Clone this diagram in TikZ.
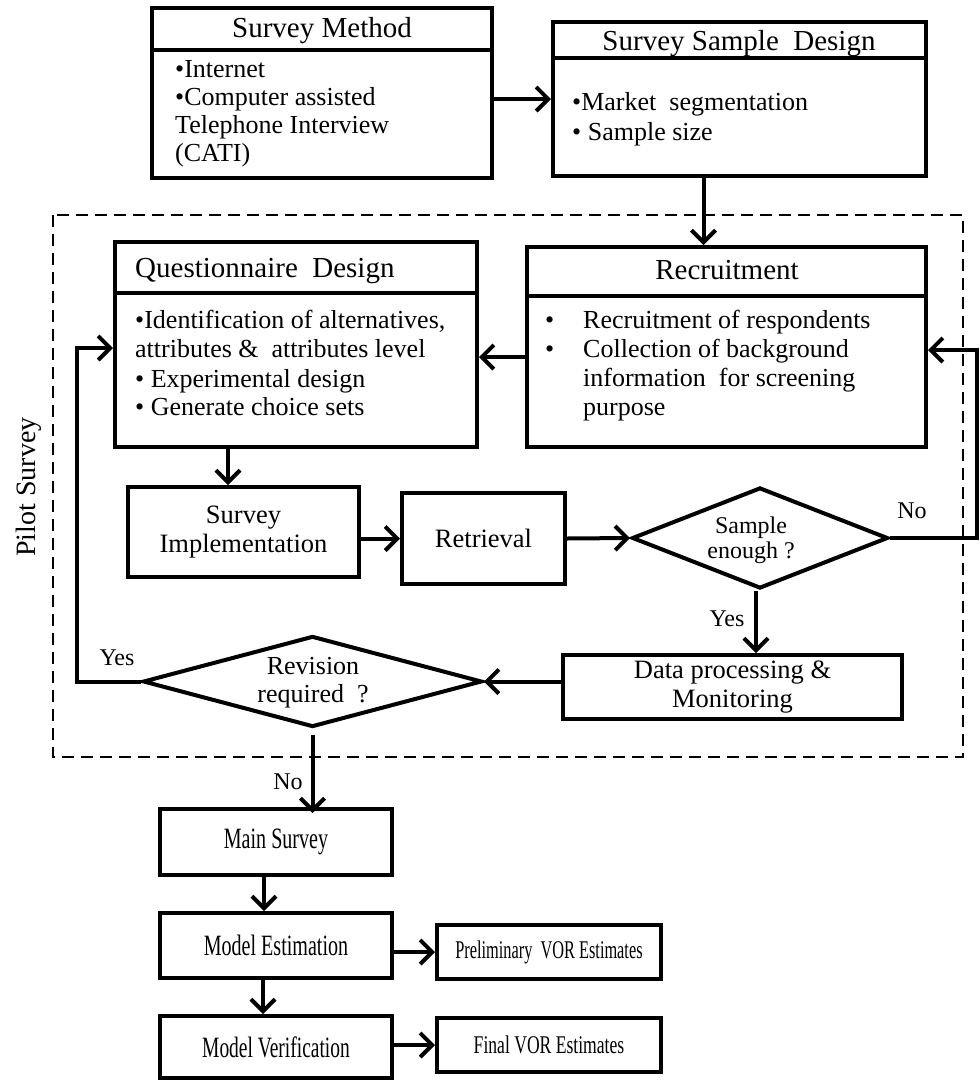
\documentclass[tikz,border=0pt]{standalone}
\usepackage{fontspec}
\usepackage{graphicx}
\setmainfont{Liberation Serif}
\usetikzlibrary{arrows.meta,shapes.geometric,calc}
\begin{document}
\begin{tikzpicture}[x=1pt,y=-1pt,
  box/.style={draw, line width=4pt, rectangle, inner sep=0pt, align=center},
  dia/.style={draw, line width=4pt, diamond, inner sep=0pt},
  arr/.style={line width=4pt, -{Straight Barb[length=12pt,width=24pt]}},
  divider/.style={line width=4pt},
  pilotbox/.style={line width=2pt, dash pattern=on 12pt off 7pt},
  ftitle/.style={font=\fontsize{29}{32}\selectfont, inner sep=0pt},
  fbody/.style={font=\fontsize{26}{29}\selectfont, inner sep=0pt},
  fbox/.style={font=\fontsize{26.5}{29}\selectfont},
  fcond/.style={font=\fontsize{29.5}{32}\selectfont},
  fcondsmall/.style={font=\fontsize{25.5}{28}\selectfont},
  lbl/.style={font=\fontsize{24}{26}\selectfont, inner sep=0pt, anchor=base}
]
\useasboundingbox (0,0) rectangle (980,1080);

% pilot survey dashed frame
\draw[pilotbox] (53,215) rectangle (963,757);
\node[rotate=90, font=\fontsize{28}{30}\selectfont, inner sep=0pt] (pilot) at (29,487) {Pilot Survey};

% Survey Method
\node[box, minimum width=340, minimum height=170] (sm) at (322,93) {};
\draw[divider] (sm.west |- 0,50) -- (sm.east |- 0,50);
\node[ftitle, anchor=base] (smh) at (322,37) {Survey Method};
\node[fbody, anchor=base west] (sm1) at (175,77) {•Internet};
\node[fbody, anchor=base west] (sm2) at (175,105) {•Computer assisted};
\node[fbody, anchor=base west] (sm3) at (175,133) {Telephone Interview};
\node[fbody, anchor=base west] (sm4) at (175,161) {(CATI)};

% Survey Sample Design
\node[box, minimum width=373, minimum height=154] (ssd) at (739.5,99) {};
\draw[divider] (ssd.west |- 0,58) -- (ssd.east |- 0,58);
\node[ftitle, anchor=base] (ssdh) at (739,50) {Survey Sample~ Design};
\node[fbody, anchor=base west] (ssd1) at (572,110) {•Market~ segmentation};
\node[fbody, anchor=base west] (ssd2) at (572,140) {• Sample size};

% Questionnaire Design
\node[box, minimum width=362, minimum height=205] (qd) at (296,344.5) {};
\draw[divider] (qd.west |- 0,293) -- (qd.east |- 0,293);
\node[ftitle, anchor=base west] (qdh) at (135,277) {Questionnaire~ Design};
\node[fbody, anchor=base west] (qd1) at (135,328) {•Identification of alternatives,};
\node[fbody, anchor=base west] (qd2) at (135,357) {attributes \&~ attributes level};
\node[fbody, anchor=base west] (qd3) at (135,387) {• Experimental design};
\node[fbody, anchor=base west] (qd4) at (135,415) {• Generate choice sets};

% Recruitment
\node[box, minimum width=399, minimum height=200] (rec) at (726.5,347) {};
\draw[divider] (rec.west |- 0,296) -- (rec.east |- 0,296);
\node[ftitle, anchor=base] (rech) at (727,279) {Recruitment};
\node[fbody, anchor=base west] (recb1) at (545,328) {•};
\node[fbody, anchor=base west] (recb2) at (545,357) {•};
\node[fbody, anchor=base west] (rec1) at (583,328) {Recruitment of respondents};
\node[fbody, anchor=base west] (rec2) at (583,357) {Collection of background};
\node[fbody, anchor=base west] (rec3) at (583,386) {information~ for screening};
\node[fbody, anchor=base west] (rec4) at (583,415) {purpose};

% Survey Implementation, Retrieval
\node[box, fbox, minimum width=231, minimum height=90] (si) at (243.5,532) {Survey\\Implementation};
\node[box, fbox, minimum width=163, minimum height=91] (ret) at (483.5,538.5) {Retrieval};

% Sample enough diamond
\node[dia, minimum width=256, minimum height=101] (se) at (760,538) {};
\node[inner sep=0pt, align=center, font=\fontsize{24}{25}\selectfont] (set) at (751,540) {Sample\\enough ?};

% Data processing
\node[box, fbox, minimum width=339, minimum height=64] (dp) at (732.5,687) {Data processing \&\\Monitoring};

% Revision diamond
\node[dia, minimum width=339, minimum height=91] (rev) at (312.5,681.5) {};
\node[inner sep=0pt, align=center, font=\fontsize{26}{28}\selectfont] (revt) at (313,683) {Revision\\required~ ?};

% bottom chain
\node[box, fcond, minimum width=232, minimum height=66] (ms) at (276,842) {\scalebox{0.68}[1]{Main Survey}};
\node[box, fcond, minimum width=232, minimum height=65] (me) at (276,945.5) {\scalebox{0.68}[1]{Model Estimation}};
\node[box, fcond, minimum width=232, minimum height=62] (mv) at (276,1047) {\scalebox{0.66}[1]{Model Verification}};
\node[box, fcondsmall, minimum width=224, minimum height=54] (pre) at (549,952) {\scalebox{0.64}[1]{Preliminary~ VOR Estimates}};
\node[box, fcondsmall, minimum width=224, minimum height=54] (fin) at (549,1045) {\scalebox{0.69}[1]{Final VOR Estimates}};

% labels
\node[lbl] (lno1) at (912,518) {No};
\node[lbl] (lyes1) at (727,626) {Yes};
\node[lbl] (lyes2) at (117,665) {Yes};
\node[lbl] (lno2) at (288,789) {No};

% connectors
\draw[arr] (sm.east |- ssd.west) -- (ssd.west);
\draw[arr] ([xshift=-36pt]ssd.south) -- ([xshift=-36pt]ssd.south |- rec.north);
\draw[arr] ([yshift=-10pt]rec.west) -- ([yshift=-10pt]rec.west -| qd.east);
\draw[arr] (se.east) -- ++(87,0) |- ([yshift=-3pt]rec.east);
\draw[arr] (rev.west) -- ++(-64,0) |- ([yshift=-3.5pt]qd.west);
\draw[arr] ([xshift=-68pt]qd.south) -- ([xshift=-68pt]qd.south |- si.north);
\draw[arr] (si.east |- ret.west) -- (ret.west);
\draw[arr] (ret.east) -- (se.west);
\draw[arr] ([xshift=-4pt]se.south) -- ([xshift=-4pt]se.south |- dp.north);
\draw[arr] (dp.west |- rev.east) -- (rev.east);
\draw[arr] ([yshift=-6pt]rev.south) -- ([yshift=-6pt]rev.south |- ms.north);
\draw[arr] ([xshift=-12pt]ms.south) -- ([xshift=-12pt]ms.south |- me.north);
\draw[arr] ([xshift=-13pt]me.south) -- ([xshift=-13pt]me.south |- mv.north);
\draw[arr] (me.east |- pre.west) -- (pre.west);
\draw[arr] (mv.east |- fin.west) -- (fin.west);
\end{tikzpicture}
\end{document}
